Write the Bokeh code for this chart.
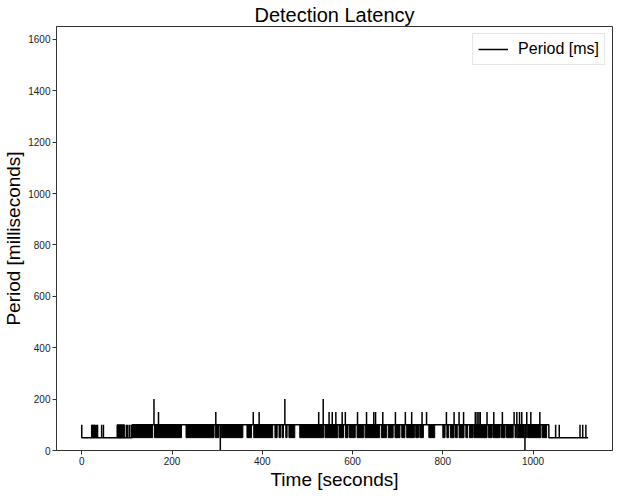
from bokeh.plotting import figure
from bokeh.models import Range1d, FixedTicker
from bokeh.embed import file_html
from bokeh.resources import INLINE

# ---- data ----
# overall level of the period trace (step points)
base_t = [0, 0, 112, 112, 1035, 1035, 1122]
base_v = [100, 50, 50, 100, 100, 50, 50]

# isolated single jumps 50 -> 100 (sparse parts)
pulse_t = [22, 24, 26, 28, 30, 33, 35, 44, 48, 99, 102, 106, 110,
           1050, 1058, 1104, 1110, 1117]

# spans of dense 50 <-> 100 alternation
block_start = [78, 112, 161, 231, 296, 309, 366, 381, 428, 437, 444, 452, 459,
               483, 539, 570, 584, 593, 610, 628, 664, 679, 694, 709, 720,
               740, 749, 769, 800, 809, 817, 828, 836, 851, 859, 869, 901,
               911, 930, 941, 960, 965, 983, 988, 1020]
block_end = [95, 157, 221, 293, 304, 357, 376, 423, 433, 441, 447, 455, 472,
             536, 567, 580, 590, 606, 625, 660, 675, 690, 705, 716, 737,
             746, 757, 782, 805, 813, 825, 832, 847, 855, 867, 898, 909,
             927, 938, 956, 963, 980, 986, 1017, 1030]

# spikes above the 100 ms level
spike_t = [160, 450, 535,
           170, 297, 380, 393, 525, 548, 555, 563, 577, 584, 611, 631, 647,
           651, 667, 695, 717, 731, 754, 764, 808, 825, 836, 846, 872, 876,
           880, 883, 898, 913, 932, 958, 964, 970, 975, 986, 995, 1015]
spike_v = [200, 200, 200,
           150, 150, 150, 150, 150, 150, 150, 150, 150, 150, 150, 150, 150,
           150, 150, 150, 150, 150, 150, 150, 150, 150, 150, 150, 150, 150,
           150, 150, 150, 150, 150, 150, 150, 150, 150, 150, 150, 150]

# drops to zero
dip_t = [307, 982]
dip_v = [0, 0]

x_ticks = [0, 200, 400, 600, 800, 1000]
y_ticks = [0, 200, 400, 600, 800, 1000, 1200, 1400, 1600]

FONT = "Liberation Sans"

p = figure(frame_width=556, frame_height=424, output_backend="svg", toolbar_location=None,
           x_range=Range1d(-56, 1176), y_range=Range1d(0, 1650),
           title="Detection Latency")

p.min_border_left = 0
p.min_border_right = 3
p.min_border_top = 0
p.min_border_bottom = 0

p.title.text_font = FONT
p.title.text_font_size = "20px"
p.title.text_font_style = "normal"
p.title.text_color = "black"
p.title.align = "center"
p.title.standoff = 2

p.xgrid.visible = False
p.ygrid.visible = False
p.outline_line_color = "#333333"
p.outline_line_width = 1

for ax, lbl in ((p.xaxis, "Time [seconds]"), (p.yaxis, "Period [milliseconds]")):
    ax.axis_label = lbl
    ax.axis_label_text_font = FONT
    ax.axis_label_text_font_size = "19px"
    ax.axis_label_text_font_style = "normal"
    ax.axis_label_standoff = 1
    ax.major_label_text_font = FONT
    ax.major_label_text_font_size = "10px"
    ax.major_label_standoff = 2
    ax.major_tick_in = 0
    ax.major_tick_out = 4
    ax.minor_tick_in = 0
    ax.minor_tick_out = 0
    ax.axis_line_color = "#333333"
    ax.major_tick_line_color = "#333333"
    ax.major_label_text_color = "#222222"
    ax.axis_label_text_color = "black"

p.xaxis.ticker = FixedTicker(ticks=x_ticks)
p.yaxis.ticker = FixedTicker(ticks=y_ticks)

lw = 1.5
p.quad(left=block_start, right=block_end, bottom=50, top=100,
       fill_color="black", line_color="black", line_width=1)
p.segment(x0=pulse_t, y0=[50] * len(pulse_t), x1=pulse_t, y1=[100] * len(pulse_t),
          line_color="black", line_width=lw)
p.segment(x0=spike_t, y0=[100] * len(spike_t), x1=spike_t, y1=spike_v,
          line_color="black", line_width=lw)
p.segment(x0=dip_t, y0=[100] * len(dip_t), x1=dip_t, y1=dip_v,
          line_color="black", line_width=lw)
p.line(base_t, base_v, line_color="black", line_width=lw, legend_label="Period [ms]")

p.legend.location = "top_right"
p.legend.label_text_font = FONT
p.legend.label_text_font_size = "16px"
p.legend.label_text_color = "black"
p.legend.border_line_color = "#cccccc"
p.legend.border_line_width = 1
p.legend.background_fill_alpha = 1.0
p.legend.margin = 7
p.legend.padding = 5
p.legend.glyph_width = 30
p.legend.label_standoff = 10
p.legend.spacing = 0

open("out.html", "w").write(file_html(p, INLINE))
